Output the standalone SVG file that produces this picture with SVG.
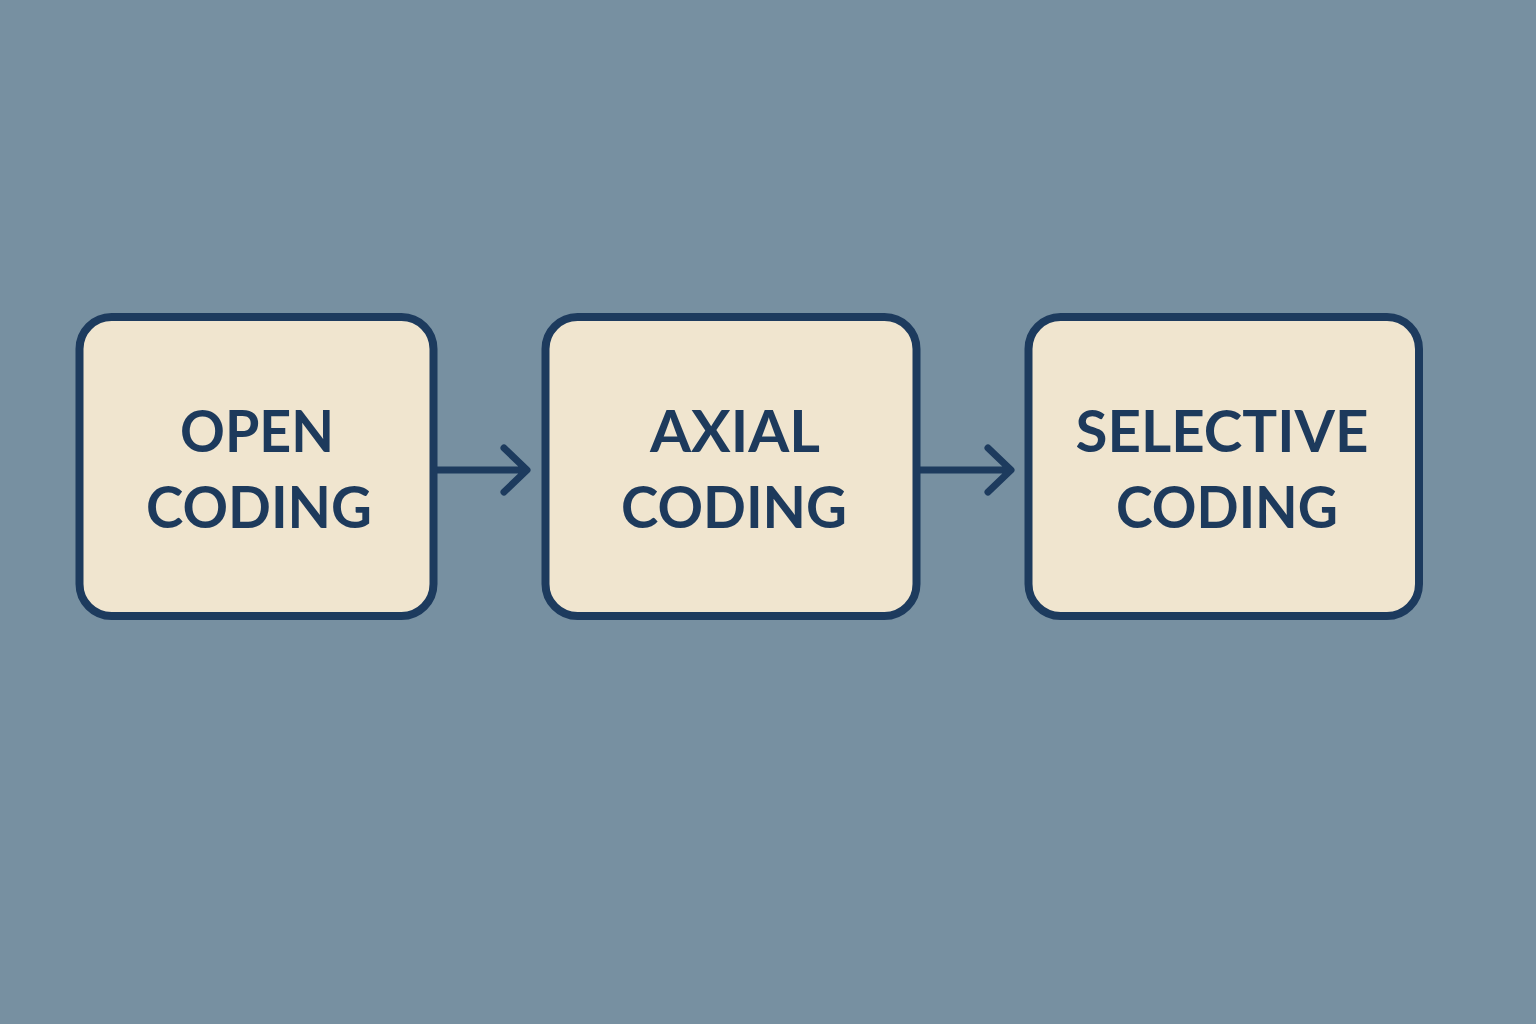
<svg xmlns="http://www.w3.org/2000/svg" width="1536" height="1024" viewBox="0 0 1536 1024">
<defs>
<style>
.box{fill:#f0e5cf;stroke:#1d3b5e;stroke-width:8}
.lbl{font-family:Lato,"Open Sans","DejaVu Sans",sans-serif;font-weight:700;font-size:58px;fill:#1d3a5c;text-anchor:middle}
.conn{fill:none;stroke:#1d3b5e;stroke-width:7;stroke-linecap:round;stroke-linejoin:round}
</style>
</defs>
<rect width="1536" height="1024" fill="#7790a1"/>
<g id="connectors">
<path class="conn" d="M436 470 H526 M504 448 L527 470 L504 492"/>
<path class="conn" d="M920 470 H1010 M988 448 L1011 470 L988 492"/>
</g>
<g id="open">
<rect class="box" x="79.5" y="317" width="354" height="299" rx="32"/>
<text class="lbl" x="257" y="452" textLength="154" lengthAdjust="spacingAndGlyphs">OPEN</text>
<text class="lbl" x="259" y="528" textLength="226" lengthAdjust="spacingAndGlyphs">CODING</text>
</g>
<g id="axial">
<rect class="box" x="545.5" y="317" width="371" height="299" rx="32"/>
<text class="lbl" x="735" y="452" textLength="170" lengthAdjust="spacingAndGlyphs">AXIAL</text>
<text class="lbl" x="734" y="528" textLength="226" lengthAdjust="spacingAndGlyphs">CODING</text>
</g>
<g id="selective">
<rect class="box" x="1028.5" y="317" width="390.5" height="299" rx="32"/>
<text class="lbl" x="1222" y="452" textLength="293" lengthAdjust="spacingAndGlyphs">SELECTIVE</text>
<text class="lbl" x="1227" y="528" textLength="222" lengthAdjust="spacingAndGlyphs">CODING</text>
</g>
</svg>
